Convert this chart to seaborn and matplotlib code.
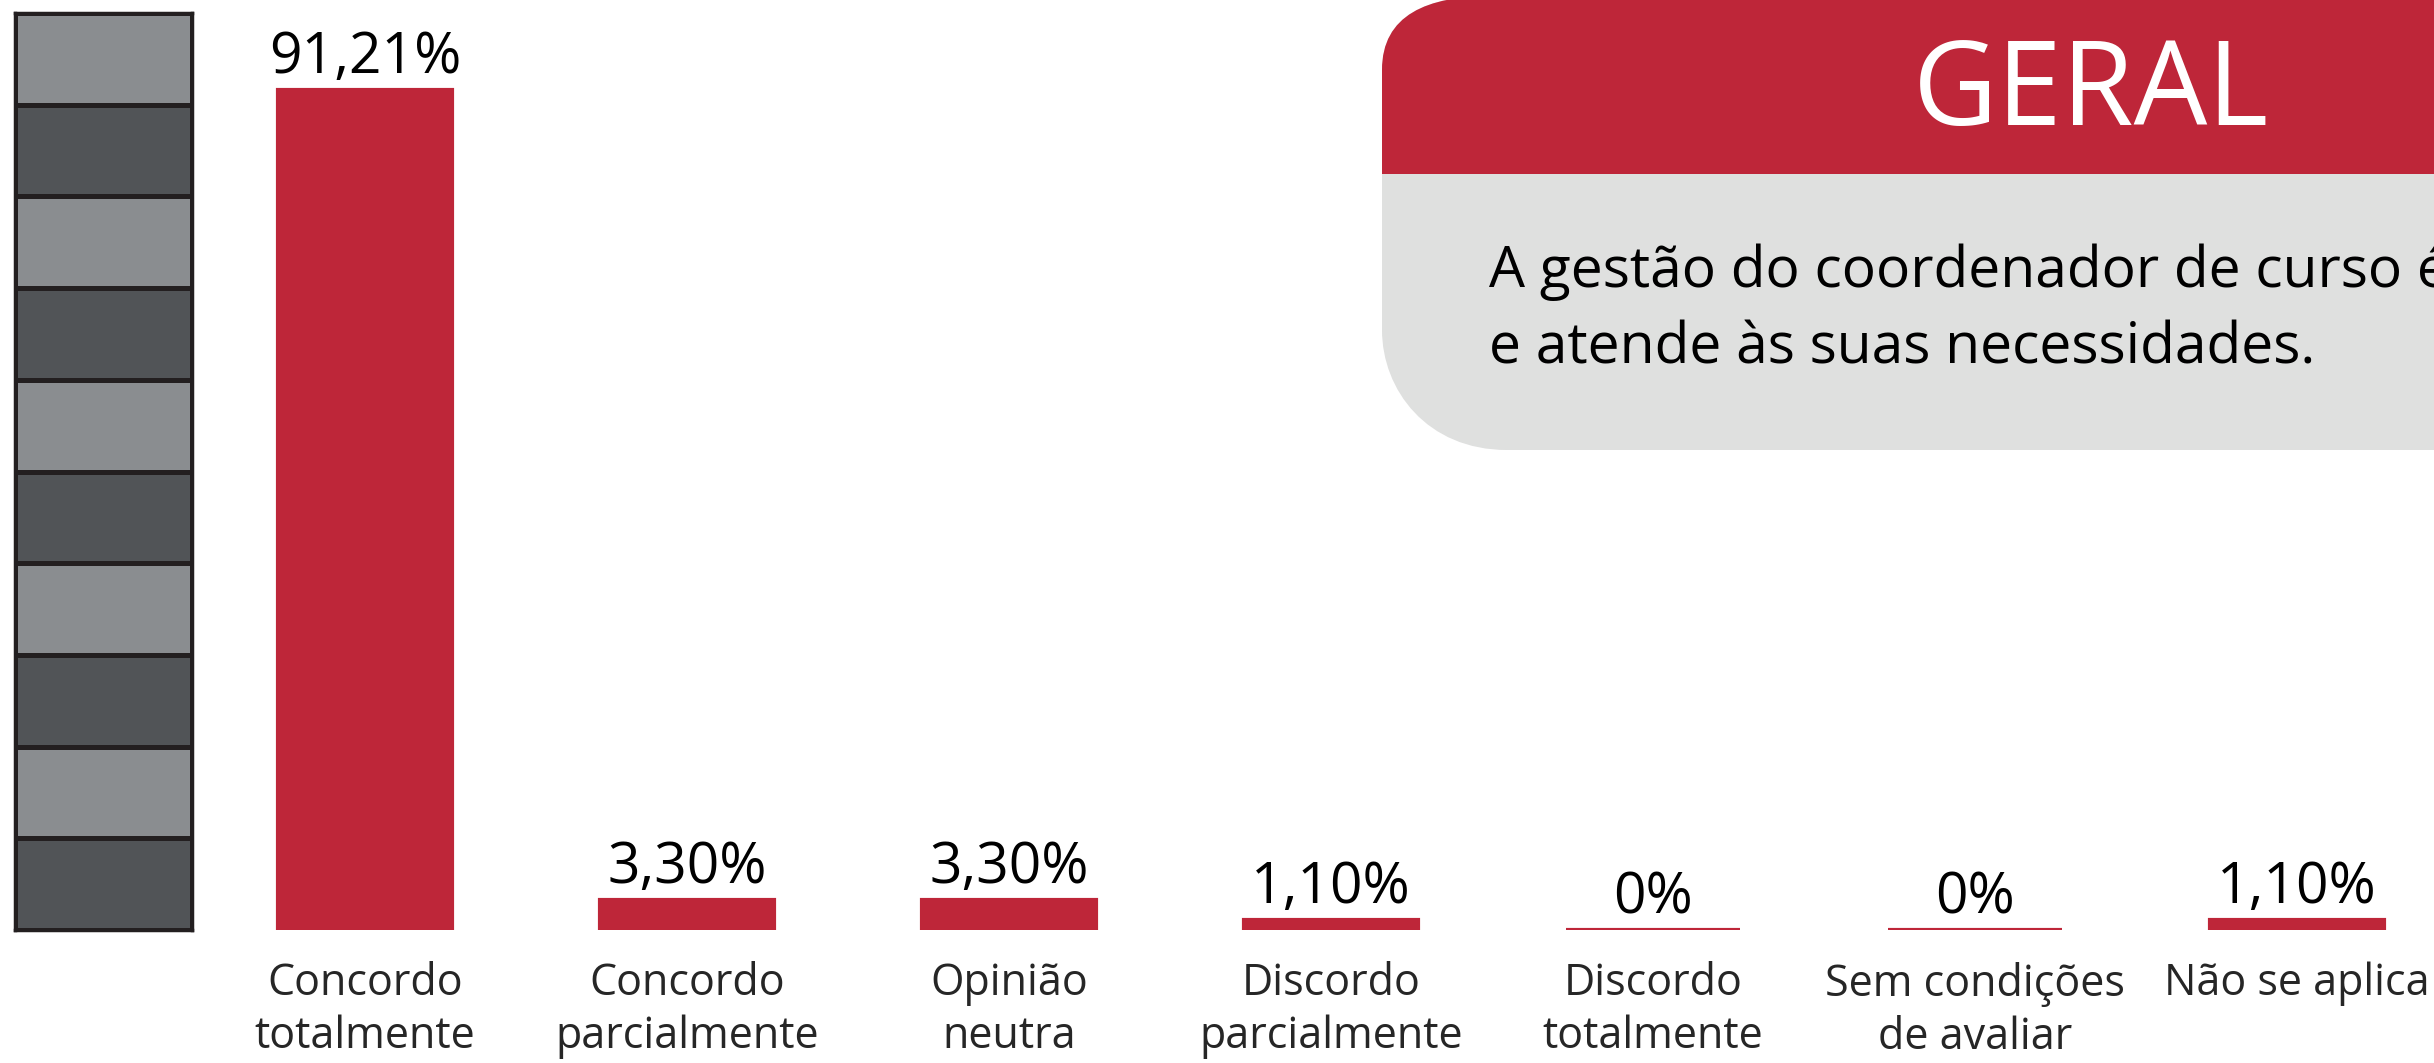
import numpy as np
import seaborn as sns
import matplotlib.pyplot as plt
from matplotlib.colors import ListedColormap
from matplotlib.path import Path
from matplotlib.patches import PathPatch, Rectangle

# data
categories = ["Concordo\ntotalmente", "Concordo\nparcialmente", "Opinião\nneutra",
              "Discordo\nparcialmente", "Discordo\ntotalmente",
              "Sem condições\nde avaliar", "Não se aplica"]
values = [91.21, 3.30, 3.30, 1.10, 0.0, 0.0, 1.10]
value_labels = ["0%" if v == 0 else f"{v:.2f}".replace(".", ",") + "%" for v in values]
title = "GERAL"
question_lines = ["A gestão do coordenador de curso é", "e atende às suas necessidades."]
stripes = [1, 0, 1, 0, 1, 0, 1, 0, 1, 0]

RED = "#be2639"
PANEL_GREY = "#dfe0df"
LIGHT = "#8a8d90"
DARK = "#515457"

sns.set_style("white")
plt.rcParams["font.family"] = ["Open Sans", "DejaVu Sans"]

W, H = 2434, 1063
fig = plt.figure(figsize=(W / 100, H / 100), dpi=100)

# overlay in pixel coords for the header panel
bg = fig.add_axes([0, 0, 1, 1])
bg.set_xlim(0, W)
bg.set_ylim(H, 0)
bg.axis("off")

x0, x1, yt, yb = 1382, 2600, -4, 450
verts = [(x0 + 110, yt), (x1, yt), (x1, yb), (x0 + 125, yb),
         (x0 + 45, yb), (x0, yb - 60), (x0, yb - 120),
         (x0, 70), (x0, 15), (x0 + 45, yt), (x0 + 110, yt)]
codes = [Path.MOVETO, Path.LINETO, Path.LINETO, Path.LINETO,
         Path.CURVE4, Path.CURVE4, Path.CURVE4,
         Path.LINETO, Path.CURVE4, Path.CURVE4, Path.CURVE4]
panel = PathPatch(Path(verts, codes), facecolor=PANEL_GREY, edgecolor="none")
bg.add_patch(panel)
red_band = Rectangle((0, -20), W + 200, 194, facecolor=RED, edgecolor="none")
bg.add_patch(red_band)
red_band.set_clip_path(panel)

bg.text(2091, 94, title, color="white", fontsize=84, ha="center", va="center")
for k, line in enumerate(question_lines):
    bg.text(1489, 287 + 76 * k, line, color="black", fontsize=41,
            ha="left", va="baseline")

# striped column on the left
sax = fig.add_axes([15 / W, 133 / H, 177 / W, 917 / H])
sns.heatmap(np.array(stripes).reshape(-1, 1), cmap=ListedColormap([DARK, LIGHT]),
            cbar=False, linewidths=2.5, linecolor="#231f20", ax=sax,
            xticklabels=False, yticklabels=False)
for s in sax.spines.values():
    s.set_visible(True)
    s.set_color("#231f20")
    s.set_linewidth(2.5)

# bars
ax = fig.add_axes([204 / W, 133 / H, 2222 / W, 921 / H])
ax.patch.set_alpha(0)
sns.barplot(x=categories, y=values, color=RED, width=0.54, saturation=1,
            edgecolor=RED, linewidth=3, ax=ax)
ax.set_xlim(-0.5, 6.4)
ax.set_ylim(0, 100)
sns.despine(ax=ax, left=True, bottom=True)
ax.set_yticks([])
ax.set_xlabel("")
ax.set_ylabel("")
ax.tick_params(axis="x", length=0, pad=23, labelsize=31)
for lab in ax.get_xticklabels():
    lab.set_linespacing(1.25)

for i, (v, txt) in enumerate(zip(values, value_labels)):
    ax.annotate(txt, (i, v), xytext=(0, 12), textcoords="offset points",
                ha="center", va="baseline", fontsize=41, color="black")

fig.savefig("out.png", dpi=100)
